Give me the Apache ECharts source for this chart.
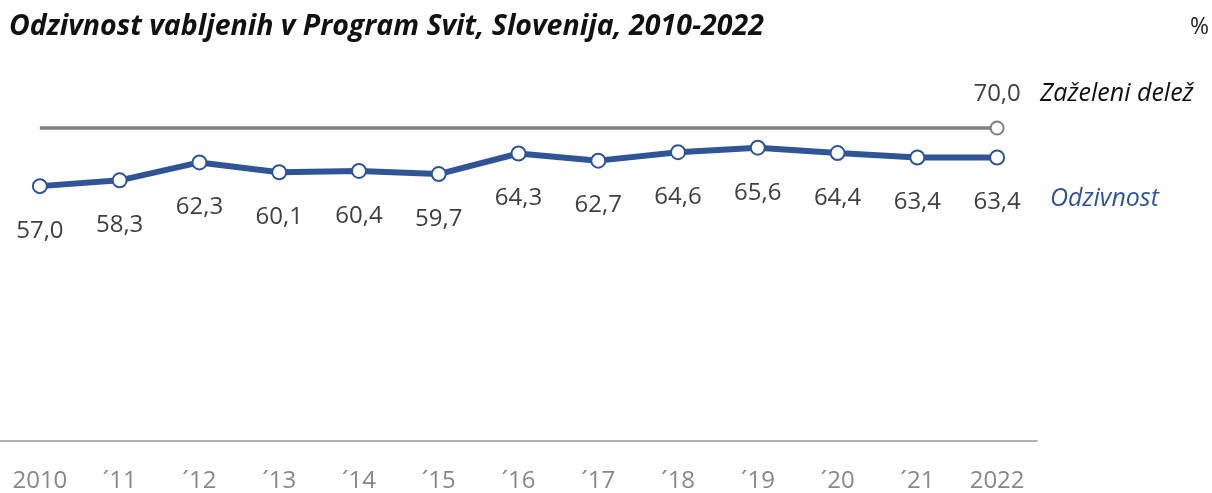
<!DOCTYPE html>
<html>
<head>
<meta charset="utf-8">
<script src="https://cdn.jsdelivr.net/npm/echarts@6/dist/echarts.min.js"></script>
<style>
  html, body { margin: 0; padding: 0; background: #fff; }
  #chart { width: 1212px; height: 493px; }
</style>
</head>
<body>
<div id="chart"></div>
<script>
const years = ['2010', '´11', '´12', '´13', '´14', '´15', '´16', '´17', '´18', '´19', '´20', '´21', '2022']
const odzivnost = [57.0, 58.3, 62.3, 60.1, 60.4, 59.7, 64.3, 62.7, 64.6, 65.6, 64.4, 63.4, 63.4]
const zazeleni = [70, 70, 70, 70, 70, 70, 70, 70, 70, 70, 70, 70, 70]

const font = '"Open Sans", Lato, sans-serif'
const fmt = (v) => v.toFixed(1).replace('.', ',')

const chart = echarts.init(document.getElementById('chart'))

chart.setOption({
  backgroundColor: '#fff',
  animation: false,
  title: {
    text: 'Odzivnost vabljenih v Program Svit, Slovenija, 2010-2022',
    left: 4,
    top: 7,
    textStyle: {
      fontFamily: '"Open Sans", sans-serif',
      fontStyle: 'italic',
      fontWeight: 'bold',
      fontSize: 28.5,
      color: '#111'
    }
  },
  graphic: [
    { type: 'text', right: 3, top: 16, style: { text: '%', font: '23px ' + font, fill: '#222' } },
    { type: 'text', left: 1040, top: 81, style: { text: 'Zaželeni delež', font: 'italic 25px ' + font, fill: '#111' } },
    { type: 'text', left: 1050, top: 186, style: { text: 'Odzivnost', font: 'italic 25px ' + font, fill: '#2F5597' } }
  ],
  grid: { left: 0, right: 175, top: 128, bottom: 50 },
  xAxis: {
    type: 'category',
    data: years,
    boundaryGap: true,
    axisLine: { lineStyle: { color: '#b3b3b3', width: 2 } },
    axisTick: { show: false },
    axisLabel: { color: '#888', fontFamily: font, fontSize: 24, margin: 28 }
  },
  yAxis: {
    type: 'value',
    min: 0,
    max: 70,
    show: false
  },
  series: [
    {
      type: 'line',
      data: zazeleni.map((v, i) => i === zazeleni.length - 1
        ? { value: v, symbol: 'circle', label: { show: true } }
        : { value: v }),
      symbol: 'none',
      symbolSize: 13,
      clip: false,
      lineStyle: { color: '#808080', width: 3.5 },
      itemStyle: { color: '#fff', borderColor: '#808080', borderWidth: 2 },
      label: {
        show: false,
        position: 'top',
        distance: 14,
        formatter: (p) => fmt(p.value),
        color: '#404040',
        fontFamily: font,
        fontSize: 24
      }
    },
    {
      type: 'line',
      data: odzivnost,
      symbol: 'circle',
      symbolSize: 14,
      clip: false,
      lineStyle: { color: '#2F5597', width: 6 },
      itemStyle: { color: '#fff', borderColor: '#2F5597', borderWidth: 2 },
      label: {
        show: true,
        position: 'bottom',
        distance: 25,
        formatter: (p) => fmt(p.value),
        color: '#404040',
        fontFamily: font,
        fontSize: 24
      }
    }
  ]
})
</script>
</body>
</html>
